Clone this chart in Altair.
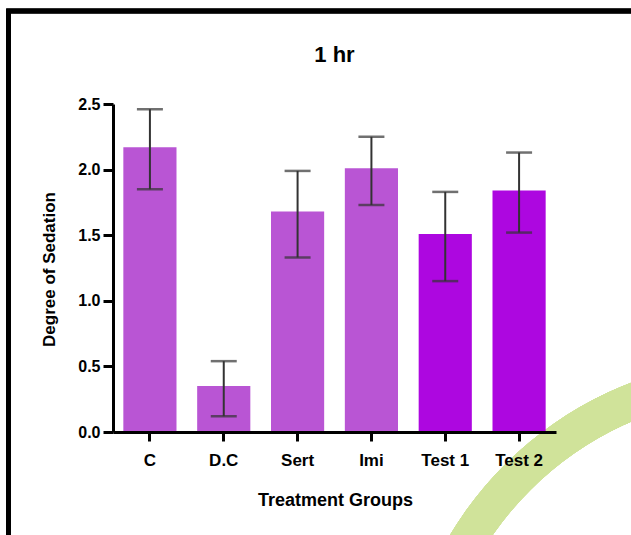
import altair as alt
import pandas as pd

groups = ["C", "D.C", "Sert", "Imi", "Test 1", "Test 2"]
means = [2.17, 0.35, 1.68, 2.01, 1.51, 1.84]
lows = [1.85, 0.12, 1.33, 1.73, 1.15, 1.52]
highs = [2.46, 0.54, 1.99, 2.25, 1.83, 2.13]
colors = ["#B955D4", "#B955D4", "#B955D4", "#B955D4", "#AD07E0", "#AD07E0"]

df = pd.DataFrame({"group": groups, "mean": means, "lo": lows, "hi": highs, "color": colors})

FONT = "Liberation Sans"
W, H = 443, 328

xenc = alt.X(
    "group:N",
    sort=groups,
    scale=alt.Scale(paddingInner=0.28, paddingOuter=0.14),
    axis=alt.Axis(
        title="Treatment Groups",
        labelAngle=0,
        labelFont=FONT, labelFontSize=17, labelFontWeight="bold", labelColor="#000",
        labelPadding=11,
        tickSize=9, tickWidth=3, tickColor="#000",
        domainWidth=3, domainColor="#000",
        titleFont=FONT, titleFontSize=18, titleFontWeight="bold", titleColor="#000",
        titleX=222, titleY=73, titleBaseline="alphabetic", titleAlign="center",
        zindex=2,
    ),
)

yscale = alt.Scale(domain=[0, 2.5], nice=False)
yaxis = alt.Axis(
    title="Degree of Sedation",
    values=[0, 0.5, 1.0, 1.5, 2.0, 2.5],
    format=".1f",
    grid=False,
    labelFont=FONT, labelFontSize=16, labelFontWeight="bold", labelColor="#000",
    labelPadding=3,
    tickSize=10, tickWidth=3, tickColor="#000",
    domainWidth=3, domainColor="#000",
    titleFont=FONT, titleFontSize=17, titleFontWeight="bold", titleColor="#000",
    titleAngle=270, titleX=-64, titleY=165, titleBaseline="middle", titleAlign="center",
    zindex=2,
)

base = alt.Chart(df)

watermark = base.mark_arc(color="#D0E39A").encode(
    x=alt.value(647), y=alt.value(616),
    radius=alt.value(361), radius2=alt.value(325),
    theta=alt.value(4.8), theta2=alt.value(6.2),
)

frame = base.mark_rect(fill=None, stroke="#000", strokeWidth=4.5).encode(
    x=alt.value(-104.5), x2=alt.value(540),
    y=alt.value(-93), y2=alt.value(460),
)

bars = base.mark_bar().encode(
    x=xenc,
    y=alt.Y("mean:Q", scale=yscale, axis=yaxis),
    color=alt.Color("color:N", scale=None),
)

stems = base.mark_rule(color="#333333", strokeWidth=2).encode(
    x=alt.X("group:N", sort=groups),
    y="lo:Q",
    y2="hi:Q",
)

caps_hi = base.mark_tick(color="#333333", thickness=2.5, size=26).encode(
    x=alt.X("group:N", sort=groups),
    y="hi:Q",
)
caps_lo = base.mark_tick(color="#333333", thickness=2.5, size=26).encode(
    x=alt.X("group:N", sort=groups),
    y="lo:Q",
)

chart = alt.layer(watermark, frame, bars, stems, caps_hi, caps_lo).properties(
    width=W,
    height=H,
    background="white",
    title=alt.TitleParams(
        text="1 hr", frame="group", anchor="middle", offset=-58,
        font=FONT, fontSize=22, fontWeight="bold", color="#000",
    ),
    autosize=alt.AutoSizeParams(type="none"),
    padding={"left": 113, "top": 104, "right": 75, "bottom": 103},
).configure_view(stroke=None)

chart.save("out.html", embed_options={"renderer": "svg", "actions": False})
